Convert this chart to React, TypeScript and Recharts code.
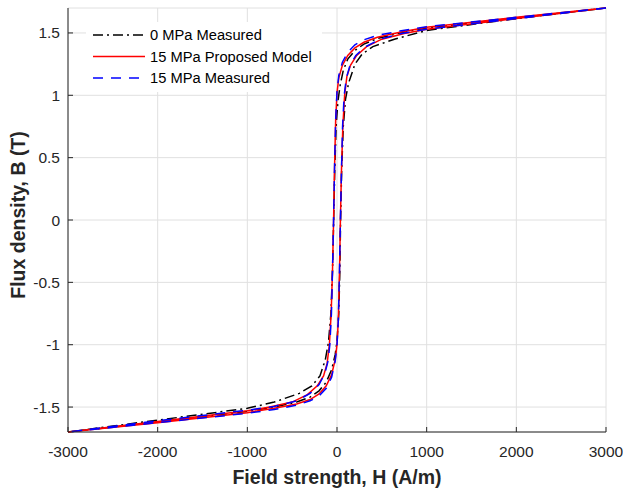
import { LineChart, Line, XAxis, YAxis, CartesianGrid, Legend, Label } from "recharts";

const FONT = '"Liberation Sans", Arial, Helvetica, sans-serif';
const AXIS_COLOR = "#262626";

const xTicks = [-3000, -2000, -1000, 0, 1000, 2000, 3000];
const yTicks = [-1.5, -1, -0.5, 0, 0.5, 1, 1.5];

const seriesNames = ["0 MPa Measured", "15 MPa Proposed Model", "15 MPa Measured"];

// each loop: descending branch (H from +3000 to -3000), then ascending branch back to +3000
// 0 MPa measured
const h0 = [
  3000, 2000, 1000, 700, 450, 300, 200, 120, 70, 35, 10, -10, -25, -37, -50, -68, -95, -130, -190, -280, -420, -700, -1000, -2000, -3000,
  -2000, -1000, -700, -450, -300, -200, -120, -60, -20, 0, 20, 32, 40, 52, 70, 95, 130, 200, 280, 400, 640, 1000, 2000, 3000,
];
const b0 = [
  1.7, 1.62, 1.54, 1.5, 1.455, 1.41, 1.36, 1.29, 1.2, 1.08, 0.95, 0.75, 0.4, 0, -0.4, -0.75, -0.98, -1.12, -1.25, -1.33, -1.39, -1.46, -1.51, -1.605, -1.7,
  -1.62, -1.535, -1.5, -1.46, -1.42, -1.37, -1.3, -1.2, -1.08, -0.97, -0.75, -0.4, 0, 0.4, 0.75, 0.97, 1.1, 1.25, 1.33, 1.39, 1.45, 1.52, 1.615, 1.7,
];

// 15 MPa proposed model
const h15m = [
  3000, 2000, 1000, 700, 450, 300, 200, 120, 60, 20, 0, -15, -28, -38, -50, -65, -85, -110, -150, -220, -330, -500, -750, -1000, -2000, -3000,
  -2000, -1000, -700, -450, -300, -200, -120, -60, -20, 0, 15, 28, 38, 50, 65, 85, 110, 150, 220, 330, 500, 750, 1000, 2000, 3000,
];
const b15m = [
  1.7, 1.625, 1.545, 1.505, 1.465, 1.425, 1.38, 1.32, 1.24, 1.14, 1.02, 0.8, 0.4, 0, -0.4, -0.75, -1.0, -1.15, -1.25, -1.33, -1.4, -1.46, -1.5, -1.53, -1.615, -1.7,
  -1.625, -1.545, -1.51, -1.475, -1.44, -1.395, -1.33, -1.24, -1.12, -1.0, -0.8, -0.4, 0, 0.4, 0.75, 1.0, 1.15, 1.24, 1.32, 1.39, 1.45, 1.495, 1.53, 1.615, 1.7,
];

// 15 MPa measured
const h15 = [
  3000, 2000, 1000, 700, 450, 300, 200, 120, 60, 20, 0, -15, -28, -38, -50, -62, -80, -100, -135, -200, -300, -450, -700, -1000, -2000, -3000,
  -2000, -1000, -700, -450, -300, -200, -120, -60, -20, 0, 15, 28, 38, 50, 62, 80, 105, 145, 210, 320, 480, 720, 1000, 2000, 3000,
];
const b15 = [
  1.7, 1.625, 1.55, 1.515, 1.48, 1.445, 1.405, 1.345, 1.265, 1.16, 1.03, 0.8, 0.4, 0, -0.4, -0.75, -1.0, -1.13, -1.23, -1.32, -1.39, -1.45, -1.495, -1.525, -1.61, -1.7,
  -1.625, -1.55, -1.52, -1.485, -1.45, -1.41, -1.35, -1.26, -1.13, -1.0, -0.8, -0.4, 0, 0.4, 0.75, 1.0, 1.14, 1.24, 1.32, 1.39, 1.45, 1.495, 1.53, 1.615, 1.7,
];

const toPoints = (h: number[], b: number[]) => h.map((x, i) => ({ h: x, b: b[i] }));

const series = [
  { name: seriesNames[0], data: toPoints(h0, b0), color: "#000000", dash: "10 4 2 4" },
  { name: seriesNames[1], data: toPoints(h15m, b15m), color: "#ff0000", dash: undefined },
  { name: seriesNames[2], data: toPoints(h15, b15), color: "#0000ff", dash: "10 8" },
];

function LegendBox() {
  return (
    <svg width={236} height={70} style={{ display: "block" }}>
      <rect x={0} y={0} width={236} height={70} fill="#ffffff" />
      {series.map((s, i) => {
        const y = 13 + i * 21.5;
        return (
          <g key={s.name}>
            <line x1={7} x2={59} y1={y} y2={y} stroke={s.color} strokeWidth={1.5} strokeDasharray={s.dash} />
            <text x={64} y={y} dy="0.35em" fontSize={14.7} fontFamily={FONT} fill="#000">
              {s.name}
            </text>
          </g>
        );
      })}
    </svg>
  );
}

export default function App() {
  return (
    <div style={{ position: "absolute", left: 0, top: 0, background: "#fff" }}>
      <LineChart width={623} height={494} margin={{ top: 8, right: 17, bottom: 0, left: 0 }}>
        <CartesianGrid stroke="#e0e0e0" strokeWidth={1} />
        <XAxis
          type="number"
          dataKey="h"
          domain={[-3000, 3000]}
          ticks={xTicks}
          interval={0}
          height={62}
          tickSize={-5}
          tickMargin={19}
          stroke={AXIS_COLOR}
          tick={{ fontSize: 15.5, fontFamily: FONT, fill: AXIS_COLOR }}
          allowDuplicatedCategory={false}
        >
          <Label
            content={(props: any) => {
              const vb = props.viewBox || { x: 68, y: 432, width: 538, height: 62 };
              return (
                <text
                  x={vb.x + vb.width / 2}
                  y={484}
                  textAnchor="middle"
                  fontSize={19.5}
                  fontWeight="bold"
                  fontFamily={FONT}
                  fill={AXIS_COLOR}
                >
                  Field strength, H (A/m)
                </text>
              );
            }}
          />
        </XAxis>
        <YAxis
          type="number"
          dataKey="b"
          domain={[-1.7, 1.7]}
          ticks={yTicks}
          interval={0}
          width={68}
          tickSize={-5}
          tickMargin={13}
          stroke={AXIS_COLOR}
          tick={{ fontSize: 15.5, fontFamily: FONT, fill: AXIS_COLOR }}
        >
          <Label
            content={() => (
              <text
                x={25}
                y={215}
                transform="rotate(-90 25 215)"
                textAnchor="middle"
                fontSize={19.5}
                fontWeight="bold"
                fontFamily={FONT}
                fill={AXIS_COLOR}
              >
                Flux density, B (T)
              </text>
            )}
          />
        </YAxis>
        <Legend
          layout="vertical"
          align="center"
          verticalAlign="middle"
          wrapperStyle={{ position: "absolute", left: 86, top: 22, width: 236, height: 70 }}
          content={() => <LegendBox />}
        />
        {series.map((s) => (
          <Line
            key={s.name}
            data={s.data}
            dataKey="b"
            name={s.name}
            type="linear"
            stroke={s.color}
            strokeWidth={1.5}
            strokeDasharray={s.dash}
            dot={false}
            activeDot={false}
            isAnimationActive={false}
          />
        ))}
      </LineChart>
    </div>
  );
}
